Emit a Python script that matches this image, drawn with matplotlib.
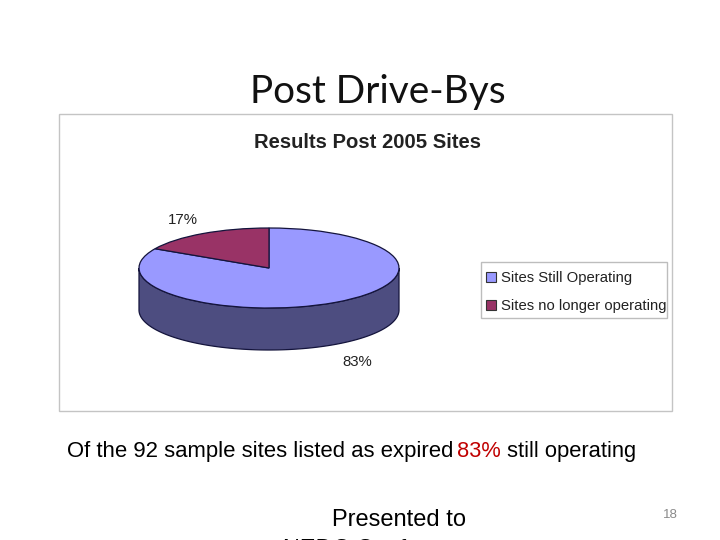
import matplotlib
matplotlib.use('Agg')
import matplotlib.pyplot as plt
import numpy as np

labels = ['Sites Still Operating', 'Sites no longer operating']
values = [83, 17]
pct_labels = ['83%', '17%']
colors = ['#9999ff', '#993366']
side_color = '#4d4d80'
edge = '#14143c'

W, H = 720, 540
fig = plt.figure(figsize=(W / 100, H / 100), dpi=100, facecolor='white')

# helper axes in pixel coordinates for the slide furniture
bg = fig.add_axes([0, 0, 1, 1])
bg.set_xlim(0, W)
bg.set_ylim(H, 0)
bg.axis('off')

bg.add_patch(plt.Rectangle((59, 114), 613, 297, fc='white', ec='#c4c4c4', lw=1))
bg.text(378, 91.5, 'Post Drive-Bys', family='Lato', fontsize=27.9, ha='center', va='center', color='#111111')
bg.text(367, 142.5, 'Results Post 2005 Sites', family='Liberation Sans', weight='bold', fontsize=14.6,
        ha='center', va='center', color='#222222')

# caption
cap_font = dict(family='Liberation Sans', va='center')
bg.text(67, 451.5, 'Of the 92 sample sites listed as expired ', color='black', ha='left', fontsize=15.9, **cap_font)
bg.text(457, 451.5, '83%', color='#c00000', ha='left', fontsize=15.7, **cap_font)
bg.text(507, 451.5, 'still operating', color='black', ha='left', fontsize=15.8, **cap_font)
bg.text(399, 520.5, 'Presented to', family='Liberation Sans', fontsize=17, ha='center', va='center', color='black')
bg.text(283, 550, 'NEDC Conference', family='Liberation Sans', fontsize=17, ha='left', va='center',
        color='black', clip_on=True)
bg.text(670, 514.5, '18', family='Liberation Sans', fontsize=9.5, ha='center', va='center', color='#8a8a8a')

# pie: axes stretched so radius 1 is 130 px wide and 40 px tall, depth 42 px below
left, right, top, bottom = 139, 399, 228, 350
ax = fig.add_axes([left / W, 1 - bottom / H, (right - left) / W, (bottom - top) / H])
ax.patch.set_alpha(0)
depth = 42 / 40
t_front = np.linspace(np.pi, 2 * np.pi, 200)
xs = np.cos(t_front)
ys = np.sin(t_front)
ax.fill(np.r_[xs, xs[::-1]], np.r_[ys, ys[::-1] - depth], fc=side_color, ec=edge, lw=0.9)
wedges, _ = ax.pie(values, colors=colors, startangle=90, counterclock=False, radius=1,
                   wedgeprops=dict(edgecolor=edge, linewidth=0.9))
ax.set_aspect('auto')
ax.set_xlim(-1, 1)
ax.set_ylim(-1 - depth, 1)
ax.axis('off')
for a in ax.patches + ax.collections:
    a.set_clip_on(False)

bg.text(357, 362, pct_labels[0], family='Liberation Sans', fontsize=10.8, ha='center', va='center', color='#222222')
bg.text(183, 220, pct_labels[1], family='Liberation Sans', fontsize=10.8, ha='center', va='center', color='#222222')

# legend
bg.add_patch(plt.Rectangle((481, 262), 186, 56, fc='white', ec='#bdbdbd', lw=1))
for y, lab, col in zip([277, 305], labels, colors):
    bg.add_patch(plt.Rectangle((486, y - 5), 10, 10, fc=col, ec='#333333', lw=0.8))
    bg.text(501, y + 1, lab, family='Liberation Sans', fontsize=10.7, ha='left', va='center', color='#222222')

fig.savefig('out.png', dpi=100)
